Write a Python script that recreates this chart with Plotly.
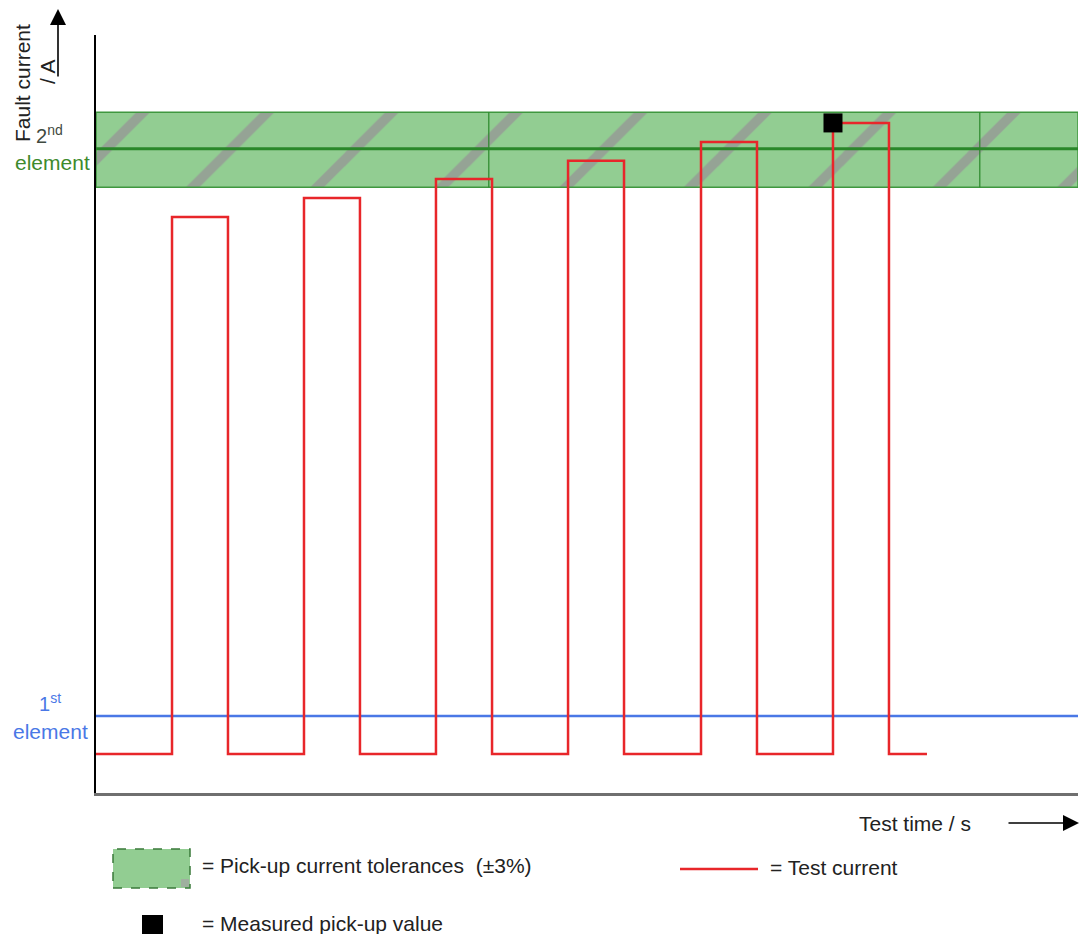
import plotly.graph_objects as go

# ---------------- data ----------------
pulse_start = [7.74, 21.18, 34.62, 48.07, 61.61, 75.05]   # test time at which each pulse starts
pulse_end = [13.44, 26.88, 40.33, 53.77, 67.31, 80.75]    # test time at which each pulse ends
pulse_level = [76.0, 78.5, 81.0, 83.4, 85.9, 88.4]        # fault current of each pulse
base_current = 5.15
trace_start = 0.0
trace_end = 84.62

element1_pickup = 10.16
element2_pickup = 85.0
element2_tol_low = 79.9
element2_tol_high = 89.8
band_dividers = [40.0, 90.0]
band_start = 0.0
band_end = 100.0

measured_time = pulse_start[-1]
measured_current = pulse_level[-1]

# ---------------- derived step waveform ----------------
t_vals = [trace_start]
i_vals = [base_current]
for s, e, lvl in zip(pulse_start, pulse_end, pulse_level):
    t_vals += [s, e]
    i_vals += [lvl, base_current]
t_vals.append(trace_end)
i_vals.append(base_current)

FONT = "Liberation Sans, Arial, sans-serif"
GREEN_FILL = "#92cd92"
GREEN_EDGE = "#3f973f"
GREEN_MID = "#2a872a"
RED = "#e8262a"
BLUE = "#4a78e6"

fig = go.Figure()

# tolerance band
fig.add_trace(go.Scatter(
    x=[band_start, band_end, band_end, band_start, band_start],
    y=[element2_tol_low, element2_tol_low, element2_tol_high, element2_tol_high, element2_tol_low],
    mode="lines", fill="toself", fillcolor=GREEN_FILL,
    fillpattern=dict(shape="/", fgcolor="#959595", bgcolor=GREEN_FILL, size=88,
                     solidity=0.11, fgopacity=0.75),
    line=dict(color=GREEN_EDGE, width=1.5), hoverinfo="skip", showlegend=False))

for d in band_dividers:
    fig.add_trace(go.Scatter(x=[d, d], y=[element2_tol_low, element2_tol_high], mode="lines",
                             line=dict(color=GREEN_MID, width=1.2), hoverinfo="skip", showlegend=False))

fig.add_trace(go.Scatter(x=[band_start, band_end], y=[element2_pickup, element2_pickup], mode="lines",
                         line=dict(color=GREEN_MID, width=3), hoverinfo="skip", showlegend=False))

# 1st element pickup
fig.add_trace(go.Scatter(x=[band_start, band_end], y=[element1_pickup, element1_pickup], mode="lines",
                         line=dict(color=BLUE, width=2.5), hoverinfo="skip", showlegend=False))

# test current
fig.add_trace(go.Scatter(x=t_vals, y=i_vals, mode="lines", line=dict(color=RED, width=2.5, shape="hv"),
                         hoverinfo="skip", showlegend=False))

# measured pick-up value
fig.add_trace(go.Scatter(x=[measured_time], y=[measured_current], mode="markers",
                         marker=dict(symbol="square", size=19, color="black"),
                         hoverinfo="skip", showlegend=False))

# ---------------- layout helpers (page pixel -> paper) ----------------
OFF = 8                      # page body margin
PAGE_W, PAGE_H = 1087, 934
PLOT_L, PLOT_R, PLOT_T, PLOT_B = 96, 1078, 35, 793   # plot area in page pixels
W, H = PAGE_W - OFF, PAGE_H - OFF
L, T = PLOT_L - OFF, PLOT_T - OFF
R = PAGE_W - PLOT_R
B = PAGE_H - PLOT_B
PW, PH = PLOT_R - PLOT_L, PLOT_B - PLOT_T


def px(xpix):
    return (xpix - PLOT_L) / PW


def py(ypix):
    return (PLOT_B - ypix) / PH


annotations = []
shapes = []


def text(x, y, s, size=21, color="#222222", xanchor="center", angle=0):
    annotations.append(dict(x=px(x), y=py(y), xref="paper", yref="paper", text=s, showarrow=False,
                            xanchor=xanchor, yanchor="middle", textangle=angle,
                            font=dict(family=FONT, size=size, color=color)))


def arrow(hx, hy, tx, ty):
    annotations.append(dict(x=px(hx), y=py(hy), xref="paper", yref="paper", text="",
                            showarrow=True, ax=tx - hx, ay=ty - hy, arrowhead=2, arrowsize=2.0,
                            arrowwidth=1.6, arrowcolor="black", standoff=0, startstandoff=0))


# axis labels
text(22, 83, "Fault current", angle=-90)
text(48, 72, "/ A", angle=-90)
arrow(58, 8, 58, 78)
text(915, 823, "Test time / s")
arrow(1079, 823, 1007, 823)

# element labels
text(49, 134, "2<sup>nd</sup>", size=20, color="#3f4a3f")
text(52, 162, "element", size=21, color="#3d8a2c")
text(50, 702, "1<sup>st</sup>", size=20, color=BLUE)
text(50, 731, "element", size=21, color=BLUE)

# legend
shapes.append(dict(type="rect", xref="paper", yref="paper", x0=px(113), x1=px(190), y0=py(888), y1=py(849),
                   fillcolor=GREEN_FILL, line=dict(color="#3a7a3a", width=1.5, dash="dash")))
shapes.append(dict(type="rect", xref="paper", yref="paper", x0=px(181), x1=px(189), y0=py(887), y1=py(879),
                   fillcolor="#9fb09f", line=dict(width=0)))
text(200, 865, "= Pick-up current tolerances\u00a0\u00a0(±3%)", xanchor="left")
shapes.append(dict(type="line", xref="paper", yref="paper", x0=px(680), x1=px(758), y0=py(869), y1=py(869),
                   line=dict(color=RED, width=2.5)))
text(768, 868, "= Test current", xanchor="left")
shapes.append(dict(type="rect", xref="paper", yref="paper", x0=px(142), x1=px(163), y0=py(936), y1=py(915),
                   fillcolor="black", line=dict(width=0)))
text(200, 923, "= Measured pick-up value", xanchor="left")

fig.update_layout(
    width=W, height=H, autosize=False,
    margin=dict(l=L, r=R, t=T, b=B, pad=0),
    paper_bgcolor="white", plot_bgcolor="white",
    font=dict(family=FONT),
    xaxis=dict(range=[0, 100], showgrid=False, zeroline=False, showticklabels=False, ticks="",
               showline=True, linecolor="#6f6f6f", linewidth=3, fixedrange=True),
    yaxis=dict(range=[0, 100], showgrid=False, zeroline=False, showticklabels=False, ticks="",
               showline=True, linecolor="black", linewidth=2, fixedrange=True),
    annotations=annotations, shapes=shapes,
)

fig.write_html("out.html")
